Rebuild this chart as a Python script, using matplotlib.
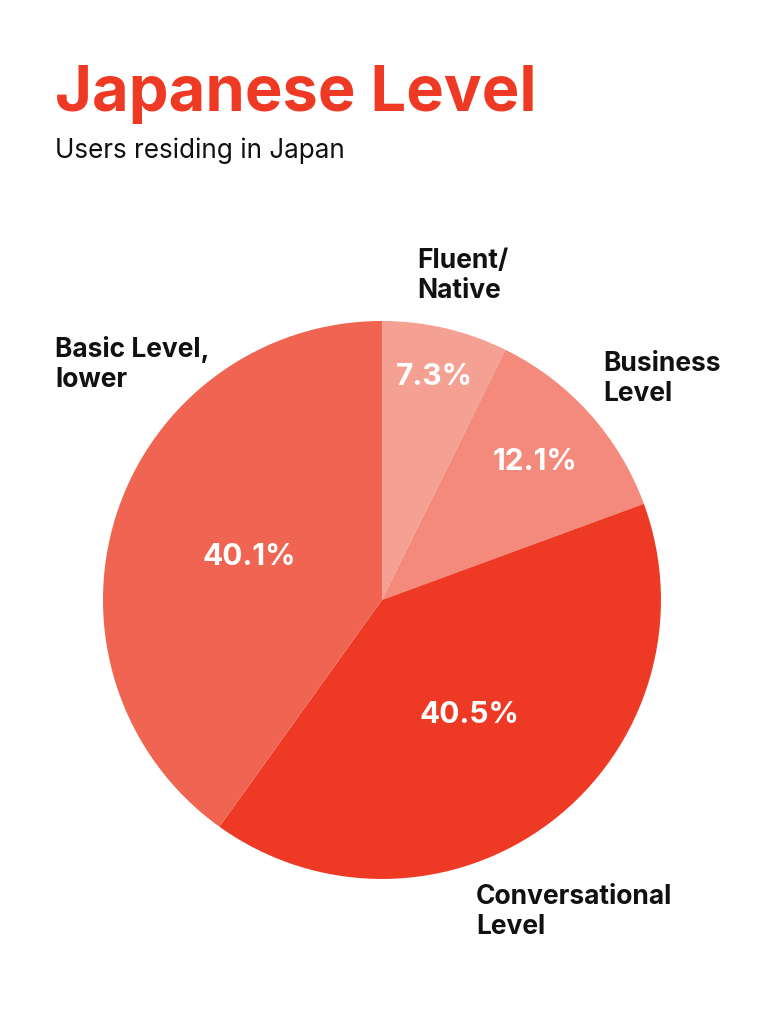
import numpy as np
import matplotlib.pyplot as plt

plt.rcParams['font.family'] = ['Inter', 'DejaVu Sans']

# data
labels = ['Fluent/\nNative', 'Business\nLevel', 'Conversational\nLevel', 'Basic Level,\nlower']
values = [7.3, 12.1, 40.5, 40.1]
colors = ['#F4A092', '#F48A7C', '#EE3A25', '#F06552']
pct_dist = [0.82, 0.74, 0.52, 0.5]

fig = plt.figure(figsize=(7.65, 10.24), dpi=100)
ax = fig.add_axes([0.1346, 0.1416, 0.7294, 0.545])

wedges, _ = ax.pie(values, colors=colors, startangle=90, counterclock=False,
                   wedgeprops=dict(linewidth=0))
ax.set_xlim(-1, 1)
ax.set_ylim(-1, 1)
ax.set_aspect('equal')

# percentage labels inside slices
for w, v, d in zip(wedges, values, pct_dist):
    ang = np.deg2rad((w.theta1 + w.theta2) / 2)
    ax.text(d * np.cos(ang), d * np.sin(ang), f'{v}%', ha='center', va='center',
            color='white', fontsize=21.5, fontweight='bold')

# outside labels (figure coords, top-left anchored)
label_pos = [(417, 248), (603, 351), (476, 884), (55, 336)]
for lab, (px, py) in zip(labels, label_pos):
    fig.text(px / 765, 1 - py / 1024, lab, ha='left', va='top', fontsize=19,
             fontweight='bold', color='#111111', linespacing=1.2)

fig.text(55 / 765, 1 - 111 / 1024, 'Japanese Level', ha='left', va='baseline',
         fontsize=45.5, fontweight='bold', color='#EE3A25')
fig.text(55 / 765, 1 - 158 / 1024, 'Users residing in Japan', ha='left', va='baseline',
         fontsize=18.8, color='#111111')

fig.savefig('out.png', dpi=100, facecolor='white')
